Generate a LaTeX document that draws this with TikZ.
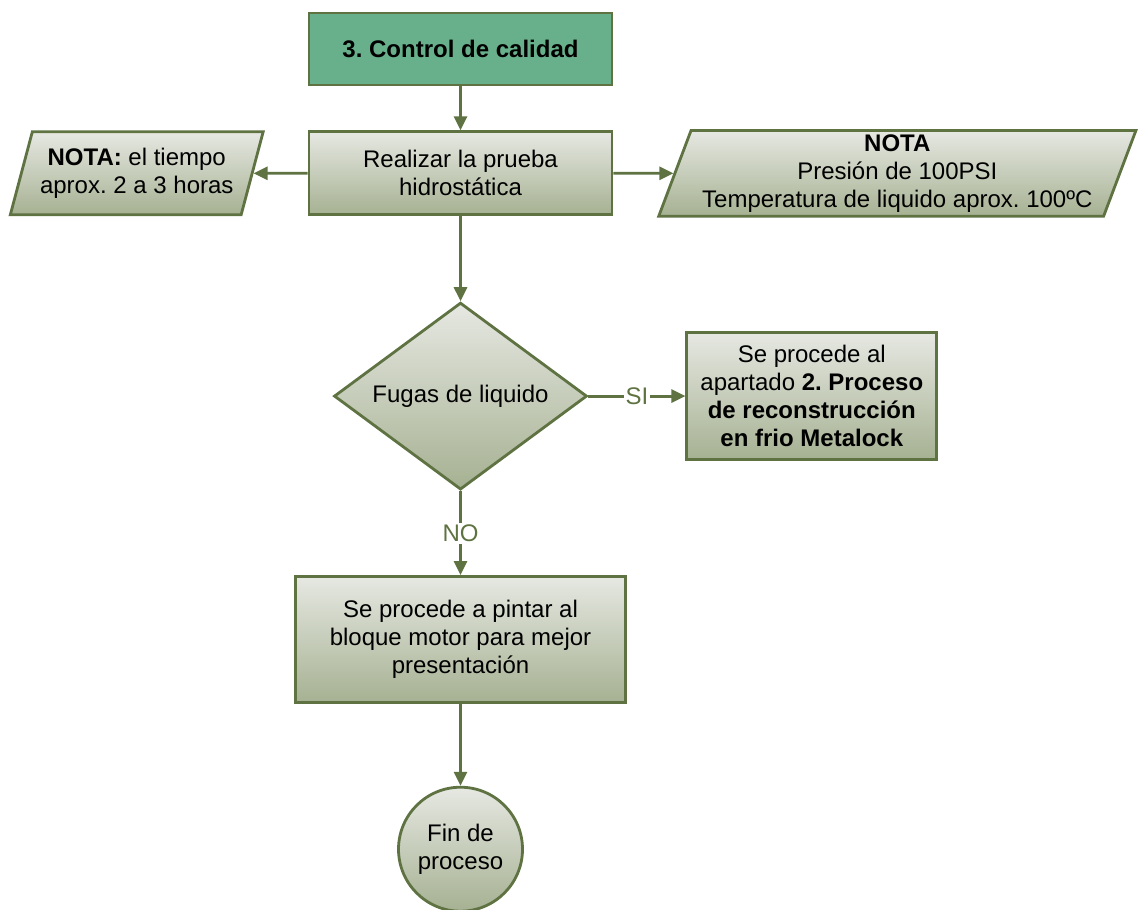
\documentclass[tikz,border=0pt]{standalone}
\usepackage{fontspec}
\setmainfont{Liberation Sans}
\usepackage{xcolor}
\usetikzlibrary{arrows.meta,positioning,shapes.geometric}
\frenchspacing
\definecolor{OliveLine}{RGB}{94,114,66}
\definecolor{TitleFill}{RGB}{104,176,140}
\definecolor{GradTop}{RGB}{230,232,226}
\definecolor{GradBot}{RGB}{166,177,146}
\tikzset{
  base/.style={draw=OliveLine,line width=1.4pt,top color=GradTop,bottom color=GradBot,
               align=center,inner sep=2pt,font=\fontsize{12}{14}\selectfont},
  titlebox/.style={base,fill=TitleFill,top color=TitleFill,bottom color=TitleFill,
                   minimum width=151.5pt,minimum height=36pt,font=\fontsize{12}{14}\selectfont\bfseries},
  procbox/.style={base,rectangle},
  notebox/.style={base,trapezium,trapezium left angle=70,trapezium right angle=110,
                  trapezium stretches=true},
  decide/.style={base,diamond,aspect=1.35,inner sep=0pt,minimum width=126.5pt,minimum height=93.5pt},
  endnode/.style={base,circle,minimum size=62pt,inner sep=0pt},
  flow/.style={-{Triangle[length=7pt,width=6.5pt]},line width=1.4pt,OliveLine},
  branch/.style={fill=white,inner sep=1pt,text=OliveLine,font=\fontsize{12}{14}\selectfont},
}
\begin{document}
\begin{tikzpicture}
  \useasboundingbox (0,0) rectangle (569pt,-454.5pt);
  \node[titlebox] (title) at (230.25pt,-24.5pt) {3. Control de calidad};
  \node[procbox,below=22pt of title,minimum width=151.5pt,minimum height=41.5pt] (prueba)
       {Realizar la prueba\\hidrostática};
  \node[notebox,left=27pt of prueba,minimum width=126.5pt,minimum height=41.5pt] (tiempo)
       {\textbf{NOTA:} el tiempo\\aprox. 2 a 3 horas};
  \node[notebox,right=30pt of prueba,minimum width=239pt,minimum height=41.5pt] (presion)
       {\textbf{NOTA}\\Presión de 100PSI\\Temperatura de liquido aprox. 100ºC};
  \node[decide,below=42.5pt of prueba] (fugas) {Fugas de liquido};
  \node[procbox,right=48.5pt of fugas,minimum width=125pt,minimum height=63.5pt] (metalock)
       {Se procede al\\apartado \textbf{2. Proceso}\\\textbf{de reconstrucción}\\\textbf{en frio Metalock}};
  \node[procbox,below=42pt of fugas,minimum width=165pt,minimum height=63pt] (pintar)
       {Se procede a pintar al\\bloque motor para mejor\\presentación};
  \node[endnode,below=41pt of pintar] (fin) {Fin de\\proceso};

  \draw[flow] (title) -- (prueba);
  \draw[flow] (prueba) -- (tiempo);
  \draw[flow] (prueba) -- (presion);
  \draw[flow] (prueba) -- (fugas);
  \draw[flow] (fugas) -- node[branch] {SI} (metalock);
  \draw[flow] (fugas) -- node[branch] {NO} (pintar);
  \draw[flow] (pintar) -- (fin);
\end{tikzpicture}
\end{document}
